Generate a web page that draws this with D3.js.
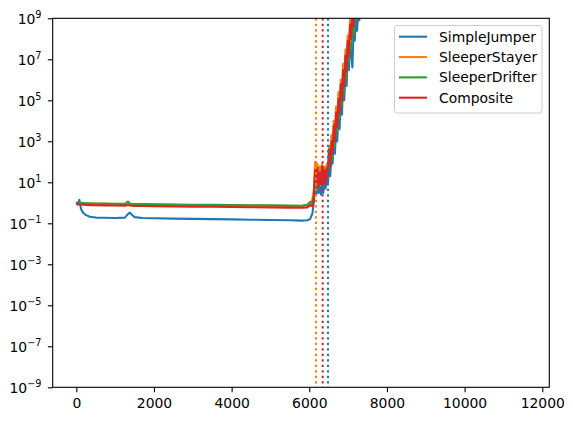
<!DOCTYPE html>
<html>
<head>
<meta charset="utf-8">
<script src="https://cdn.jsdelivr.net/npm/d3@7"></script>
<style>
  body { margin: 0; background: #fff; }
  svg { display: block; }
  text { font-family: "DejaVu Sans", sans-serif; }
</style>
</head>
<body>
<svg id="chart" width="573" height="421"></svg>
<script>

// training steps (shared by all series)
var steps = [0, 40, 80, 120, 180, 250, 350, 500, 700, 1000, 1250, 1330, 1380, 1430, 1500, 1700, 2000, 2500, 3000, 3500,
  4000, 4500, 5000, 5500, 5800, 5950, 6020, 6080,
  6120, 6150, 6180, 6210, 6240, 6270, 6300, 6330, 6360, 6390, 6420, 6450, 6480, 6510, 6540, 6570, 6600, 6630, 6660, 6690,
  6720, 6750, 6780, 6810, 6840, 6870, 6900, 6930, 6960, 6990, 7020, 7050, 7080, 7110, 7140, 7170, 7200, 7230, 7260, 7290,
  7320, 7350,
  7400, 7500, 8000, 9000, 10000, 11000, 11600];

var seriesNames = ["SimpleJumper", "SleeperStayer", "SleeperDrifter", "Composite"];

var simpleJumper = [1.0, 0.8, 1.4, 0.5, 0.32, 0.25, 0.21, 0.19, 0.185, 0.18, 0.19, 0.28, 0.33, 0.26, 0.2, 0.18, 0.175, 0.17, 0.165, 0.16,
  0.155, 0.15, 0.145, 0.14, 0.135, 0.14, 0.16, 0.3,
  1.2, 8, 2.5, 12, 3, 6, 2.5, 10, 3, 12, 5, 15, 8, 60, 20, 250, 80, 1000, 250, 4000,
  1000, 2e4, 4000, 1e5, 2e4, 5e5, 1e5, 3e6, 5e5, 1.5e7, 3e6, 6e7, 2e7, 4e6, 2.5e8, 8e7, 8e8, 2.5e8, 2e9, 8e8,
  4e9, 1.5e9,
  1e10, 3e10, 1e12, 1e15, 1e18, 1e21, 1e23];

var sleeperStayer = [1.0, 0.95, 0.93, 0.92, 0.92, 0.91, 0.9, 0.9, 0.89, 0.87, 0.86, 0.95, 0.88, 0.85, 0.84, 0.83, 0.82, 0.8, 0.78, 0.76,
  0.75, 0.73, 0.72, 0.7, 0.69, 0.75, 0.9, 1.5,
  5, 100, 15, 80, 10, 60, 12, 80, 15, 60, 12, 80, 30, 600, 120, 2000, 400, 1e4, 2000, 5e4,
  8000, 2.5e5, 4e4, 1e6, 2e5, 6e6, 1e6, 3e7, 5e6, 1.5e8, 3e7, 1e9, 2e8, 4e9, 1e9, 1e10, 5e9, 2e10, 1e10, 4e10,
  2e10, 8e10,
  2e11, 5e11, 1e14, 1e17, 1e20, 1e23, 1e25];

var sleeperDrifter = [1.05, 1.0, 0.98, 0.97, 0.96, 0.95, 0.94, 0.93, 0.92, 0.9, 0.89, 1.15, 0.92, 0.88, 0.87, 0.86, 0.85, 0.83, 0.81, 0.79,
  0.77, 0.76, 0.75, 0.73, 0.72, 0.8, 1.1, 0.9,
  2.5, 20, 6, 30, 8, 25, 8, 40, 12, 30, 10, 30, 15, 200, 50, 600, 150, 3000, 600, 1.2e4,
  3000, 6e4, 1.5e4, 3e5, 6e4, 1.5e6, 2.5e5, 8e6, 1.2e6, 4e7, 8e6, 6e7, 3e7, 6e8, 1.5e8, 2.5e9, 8e8, 8e9, 3e9, 1.5e10,
  8e9, 3e10,
  1e11, 3e11, 1e14, 1e17, 1e20, 1e22, 1e24];

var composite = [1.0, 0.9, 0.85, 0.82, 0.8, 0.78, 0.77, 0.76, 0.75, 0.74, 0.73, 0.78, 0.74, 0.72, 0.71, 0.7, 0.69, 0.67, 0.65, 0.64,
  0.62, 0.61, 0.6, 0.58, 0.57, 0.6, 0.75, 0.7,
  2, 40, 8, 50, 6, 30, 8, 60, 10, 40, 8, 50, 20, 400, 60, 1000, 250, 6000, 1000, 2.5e4,
  5000, 1.2e5, 2.5e4, 6e5, 1e5, 3e6, 5e5, 1.5e7, 2.5e6, 8e7, 1.5e7, 5e8, 1e8, 2e9, 4e8, 6e9, 2e9, 1e10, 5e9, 2e10,
  1e10, 5e10,
  1e11, 3e11, 1e14, 1e17, 1e20, 1e22, 1e24];

// step where each series switches (dotted vertical markers)
var switchSeries = ["SleeperStayer", "Composite", "SimpleJumper"];
var switchSteps = [6173, 6345, 6482];

var xTicks = [0, 2000, 4000, 6000, 8000, 10000, 12000];
var yTickExps = [-9, -7, -5, -3, -1, 1, 3, 5, 7, 9];

var colors = ["#1f77b4", "#ff7f0e", "#2ca02c", "#d62728"];
var allValues = [simpleJumper, sleeperStayer, sleeperDrifter, composite];

var svg = d3.select("#chart");
// axes box in pixels (note: "top" is reserved on window)
var axL = 52.7, axR = 549.3, axT = 18.3, axB = 387.3;

var x = d3.scaleLinear().domain([-608, 12181]).range([axL, axR]);
var y = d3.scaleLog().domain([1e-9, 1e9]).range([axB, axT]);
var color = d3.scaleOrdinal().domain(seriesNames).range(colors);

svg.append("defs").append("clipPath").attr("id", "plotclip")
  .append("rect")
  .attr("x", axL).attr("y", axT)
  .attr("width", axR - axL).attr("height", axB - axT);

var plot = svg.append("g").attr("clip-path", "url(#plotclip)");

var line = d3.line()
  .x(function(d) { return x(d[0]); })
  .y(function(d) { return y(d[1]); });

seriesNames.forEach(function(name, i) {
  var pts = steps.map(function(s, j) { return [s, allValues[i][j]]; });
  plot.append("path")
    .datum(pts)
    .attr("fill", "none")
    .attr("stroke", color(name))
    .attr("stroke-width", 2.1)
    .attr("stroke-linejoin", "round")
    .attr("d", line);
});

// dotted switch markers
switchSteps.forEach(function(s, i) {
  plot.append("line")
    .attr("x1", x(s)).attr("x2", x(s))
    .attr("y1", axT).attr("y2", axB)
    .attr("stroke", color(switchSeries[i]))
    .attr("stroke-width", 2.1)
    .attr("stroke-dasharray", "2.1,3.4");
});

// axes
var xAxis = d3.axisBottom(x).tickValues(xTicks).tickSize(4.86).tickPadding(4.86).tickFormat(d3.format("d"));
var gx = svg.append("g").attr("transform", "translate(0," + axB + ")").call(xAxis);
gx.select(".domain").remove();
gx.selectAll(".tick line").attr("stroke", "#000").attr("stroke-width", 1.1);
gx.selectAll(".tick text").attr("font-size", "13.9px").attr("fill", "#000").attr("dy", "0.78em")
  .attr("font-family", "DejaVu Sans");

var yAxis = d3.axisLeft(y).tickValues(yTickExps.map(function(e) { return Math.pow(10, e); }))
  .tickSize(4.86).tickFormat("");
var gy = svg.append("g").attr("transform", "translate(" + axL + ",0)").call(yAxis);
gy.select(".domain").remove();
gy.selectAll(".tick line").attr("stroke", "#000").attr("stroke-width", 1.1);

yTickExps.forEach(function(e) {
  var ty = y(Math.pow(10, e));
  var t = svg.append("text")
    .attr("x", 41.5)
    .attr("y", ty + 5.7)
    .attr("text-anchor", "end")
    .attr("font-size", "13.9px")
    .attr("fill", "#000");
  t.append("tspan").text("10");
  t.append("tspan")
    .attr("font-size", "9.7px")
    .attr("dy", -5.9)
    .text(e < 0 ? "\u2212" + (-e) : String(e));
});

// frame
svg.append("rect")
  .attr("x", axL).attr("y", axT)
  .attr("width", axR - axL).attr("height", axB - axT)
  .attr("fill", "none").attr("stroke", "#000").attr("stroke-width", 1.1);

// legend
var lg = svg.append("g");
lg.append("rect")
  .attr("x", 394.5).attr("y", 25.5)
  .attr("width", 147.5).attr("height", 87.5)
  .attr("rx", 2.8)
  .attr("fill", "#fff").attr("fill-opacity", 0.8)
  .attr("stroke", "#cccccc").attr("stroke-width", 1);

var rowY = d3.scaleLinear().domain([0, 3]).range([36.7, 97.7]);
seriesNames.forEach(function(name, i) {
  lg.append("line")
    .attr("x1", 399).attr("x2", 427)
    .attr("y1", rowY(i)).attr("y2", rowY(i))
    .attr("stroke", color(name)).attr("stroke-width", 2.1);
  lg.append("text")
    .attr("x", 439)
    .attr("y", rowY(i) + 5)
    .attr("font-size", "13.9px")
    .attr("fill", "#000")
    .text(name);
});

</script>
</body>
</html>
